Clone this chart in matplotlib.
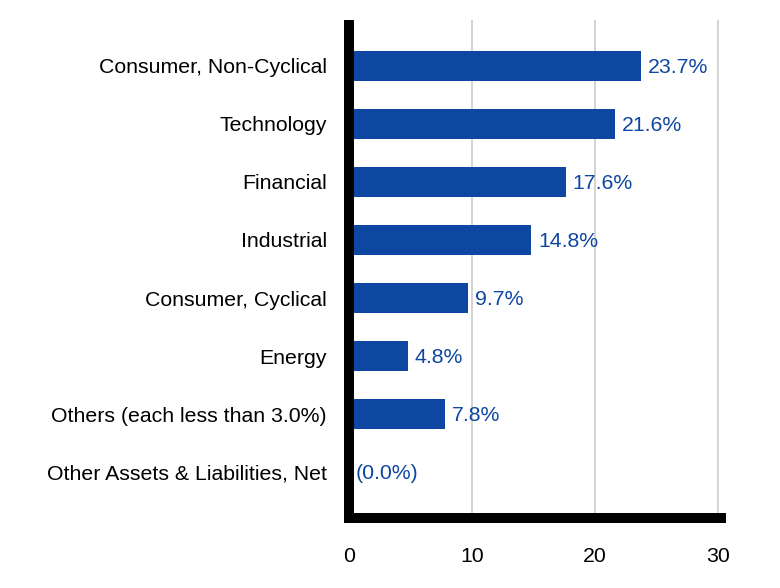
import matplotlib
matplotlib.use("Agg")
import matplotlib.pyplot as plt

categories = ["Consumer, Non-Cyclical", "Technology", "Financial", "Industrial",
              "Consumer, Cyclical", "Energy", "Others (each less than 3.0%)",
              "Other Assets & Liabilities, Net"]
values = [23.7, 21.6, 17.6, 14.8, 9.7, 4.8, 7.8, 0.0]
labels = ["23.7%", "21.6%", "17.6%", "14.8%", "9.7%", "4.8%", "7.8%", "(0.0%)"]
xticks = [0, 10, 20, 30]

plt.rcParams['font.family'] = ['Liberation Sans', 'DejaVu Sans']
color = '#0e47a1'
fs = 15.3

fig = plt.figure(figsize=(7.8, 5.88), dpi=100)
ax = fig.add_axes([349/780, 1-518/588, (721-349)/780, (518-20)/588])
y = list(range(len(categories)))
ax.barh(y, values, height=0.52, color=color, zorder=3)
for yi, v, lab in zip(y, values, labels):
    ax.annotate(lab, (v, yi), xytext=(5, -1), textcoords='offset points',
                va='center', ha='left', fontsize=fs, color=color, zorder=4)
ax.set_yticks(y)
ax.set_yticklabels(categories, fontsize=fs)
ax.set_ylim(len(categories) - 1 + 0.79, -0.79)
ax.set_xlim(0, 30.24)
ax.set_xticks(xticks)
ax.set_xticklabels([str(t) for t in xticks], fontsize=fs)
ax.tick_params(axis='both', length=0)
ax.tick_params(axis='x', pad=21)
ax.tick_params(axis='y', pad=16)
ax.grid(axis='x', color='#d0d0d0', linewidth=1.3, zorder=0)
for s in ['top', 'right']:
    ax.spines[s].set_visible(False)
for s in ['left', 'bottom']:
    ax.spines[s].set_linewidth(7.2)
    ax.spines[s].set_color('black')
    ax.spines[s].set_zorder(5)
ax.spines['left'].set_capstyle('butt')
ax.spines['bottom'].set_capstyle('projecting')
fig.savefig("out.png", dpi=100)
